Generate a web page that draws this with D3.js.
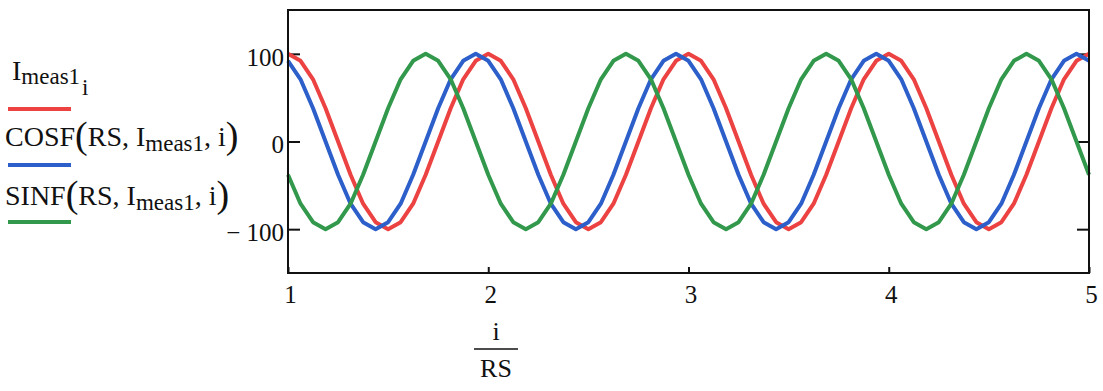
<!DOCTYPE html>
<html>
<head>
<meta charset="utf-8">
<script src="https://cdn.jsdelivr.net/npm/d3@7"></script>
<style>
  html, body { margin: 0; padding: 0; background: #fff; }
  svg { display: block; }
  text { font-family: "Liberation Serif", "Times New Roman", serif; fill: #111; }
</style>
</head>
<body>
<svg id="chart" width="1103" height="391"></svg>
<script>
// samples per period (i / RS on the x axis)
const RS = 16;
const iValues = d3.range(16, 81);

// I_meas1_i
const measValues = [
  100, 92, 71, 38, 0, -38, -71, -92, -100, -92, -71, -38, 0, 38, 71, 92,
  100, 92, 71, 38, 0, -38, -71, -92, -100, -92, -71, -38, 0, 38, 71, 92,
  100, 92, 71, 38, 0, -38, -71, -92, -100, -92, -71, -38, 0, 38, 71, 92,
  100, 92, 71, 38, 0, -38, -71, -92, -100, -92, -71, -38, 0, 38, 71, 92,
  100
];
// COSF(RS, I_meas1, i)
const cosfValues = [
  92, 71, 38, 0, -38, -71, -92, -100, -92, -71, -38, 0, 38, 71, 92, 100,
  92, 71, 38, 0, -38, -71, -92, -100, -92, -71, -38, 0, 38, 71, 92, 100,
  92, 71, 38, 0, -38, -71, -92, -100, -92, -71, -38, 0, 38, 71, 92, 100,
  92, 71, 38, 0, -38, -71, -92, -100, -92, -71, -38, 0, 38, 71, 92, 100,
  92
];
// SINF(RS, I_meas1, i)
const sinfValues = [
  -38, -71, -92, -100, -92, -71, -38, 0, 38, 71, 92, 100, 92, 71, 38, 0,
  -38, -71, -92, -100, -92, -71, -38, 0, 38, 71, 92, 100, 92, 71, 38, 0,
  -38, -71, -92, -100, -92, -71, -38, 0, 38, 71, 92, 100, 92, 71, 38, 0,
  -38, -71, -92, -100, -92, -71, -38, 0, 38, 71, 92, 100, 92, 71, 38, 0,
  -38
];

const xTicks = [1, 2, 3, 4, 5];
const yTicks = [-100, 0, 100];

const series = [
  { name: 'meas', values: measValues, color: '#ec4242' },
  { name: 'cosf', values: cosfValues, color: '#2c5fc9' },
  { name: 'sinf', values: sinfValues, color: '#32984b' }
];

const svg = d3.select('#chart');

const plot = { left: 288, right: 1089, top: 10, bottom: 273 };

const x = d3.scaleLinear()
  .domain([1, 5])
  .range([plot.left, plot.right]);

const y = d3.scaleLinear()
  .domain([-150, 150])
  .range([plot.bottom, plot.top]);

// y axis, ticks pointing into the plot
const yAxis = d3.axisLeft(y)
  .tickValues(yTicks)
  .tickSize(-12)
  .tickPadding(4)
  .tickFormat(d => d < 0 ? '\u2212 ' + Math.abs(d) : String(d));

const gy = svg.append('g')
  .attr('transform', `translate(${plot.left},0)`)
  .call(yAxis);
gy.select('.domain').remove();
gy.selectAll('line').attr('stroke', '#111').attr('stroke-width', 2);
gy.selectAll('text')
  .attr('font-size', 25)
  .attr('font-family', '"Liberation Serif", serif')
  .attr('dy', '0.45em');

// ticks on the right border too
const gyr = svg.append('g')
  .attr('transform', `translate(${plot.right},0)`)
  .call(d3.axisRight(y).tickValues(yTicks).tickSize(-12).tickFormat(''));
gyr.select('.domain').remove();
gyr.selectAll('line').attr('stroke', '#111').attr('stroke-width', 2);

const xAxis = d3.axisBottom(x)
  .tickValues(xTicks)
  .tickSize(-6)
  .tickPadding(12)
  .tickFormat(d3.format('d'));

const gx = svg.append('g')
  .attr('transform', `translate(0,${plot.bottom})`)
  .call(xAxis);
gx.select('.domain').remove();
gx.selectAll('line').attr('stroke', '#111').attr('stroke-width', 2);
gx.selectAll('text')
  .attr('font-size', 25)
  .attr('font-family', '"Liberation Serif", serif')
  .attr('dx', 2);

// the traces
const line = d3.line()
  .x((d, k) => x(iValues[k] / RS))
  .y(d => y(d));

svg.append('g')
  .selectAll('path')
  .data(series)
  .enter()
  .append('path')
  .attr('d', d => line(d.values))
  .attr('fill', 'none')
  .attr('stroke', d => d.color)
  .attr('stroke-width', 4)
  .attr('stroke-linejoin', 'round');

// plot frame
svg.append('rect')
  .attr('x', plot.left)
  .attr('y', plot.top)
  .attr('width', plot.right - plot.left)
  .attr('height', plot.bottom - plot.top)
  .attr('fill', 'none')
  .attr('stroke', '#111')
  .attr('stroke-width', 2);

// legend
const legend = svg.append('g');

const t1 = legend.append('text').attr('x', 12).attr('y', 80).attr('font-size', 28);
t1.append('tspan').text('I');
t1.append('tspan').attr('font-size', 23).attr('dy', 4).text('meas1');
t1.append('tspan').attr('font-size', 23).attr('dy', 11).attr('dx', 2).text('i');

function callLabel(name, yBase) {
  const t = legend.append('text').attr('x', 5).attr('y', yBase).attr('font-size', 28);
  t.append('tspan').text(name);
  t.append('tspan').attr('font-size', 38).attr('dy', 2).text('(');
  t.append('tspan').attr('dy', -2).text('RS');
  t.append('tspan').text(', I');
  t.append('tspan').attr('font-size', 23).attr('dy', 5).text('meas1');
  t.append('tspan').attr('dy', -5).text(', i');
  t.append('tspan').attr('font-size', 38).attr('dy', 2).text(')');
}
callLabel('COSF', 146);
callLabel('SINF', 205);

const legendLineY = [109, 165, 222];
legend.selectAll('line')
  .data(series)
  .enter()
  .append('line')
  .attr('x1', 8)
  .attr('x2', 71)
  .attr('y1', (d, k) => legendLineY[k])
  .attr('y2', (d, k) => legendLineY[k])
  .attr('stroke', d => d.color)
  .attr('stroke-width', 4);

// x axis title: i / RS
const title = svg.append('g').attr('transform', 'translate(496,0)');
title.append('text').attr('text-anchor', 'middle').attr('y', 340).attr('font-size', 26).text('i');
title.append('line')
  .attr('x1', -22).attr('x2', 22)
  .attr('y1', 349).attr('y2', 349)
  .attr('stroke', '#111').attr('stroke-width', 1.5);
title.append('text').attr('text-anchor', 'middle').attr('y', 377).attr('font-size', 26).text('RS');
</script>
</body>
</html>
